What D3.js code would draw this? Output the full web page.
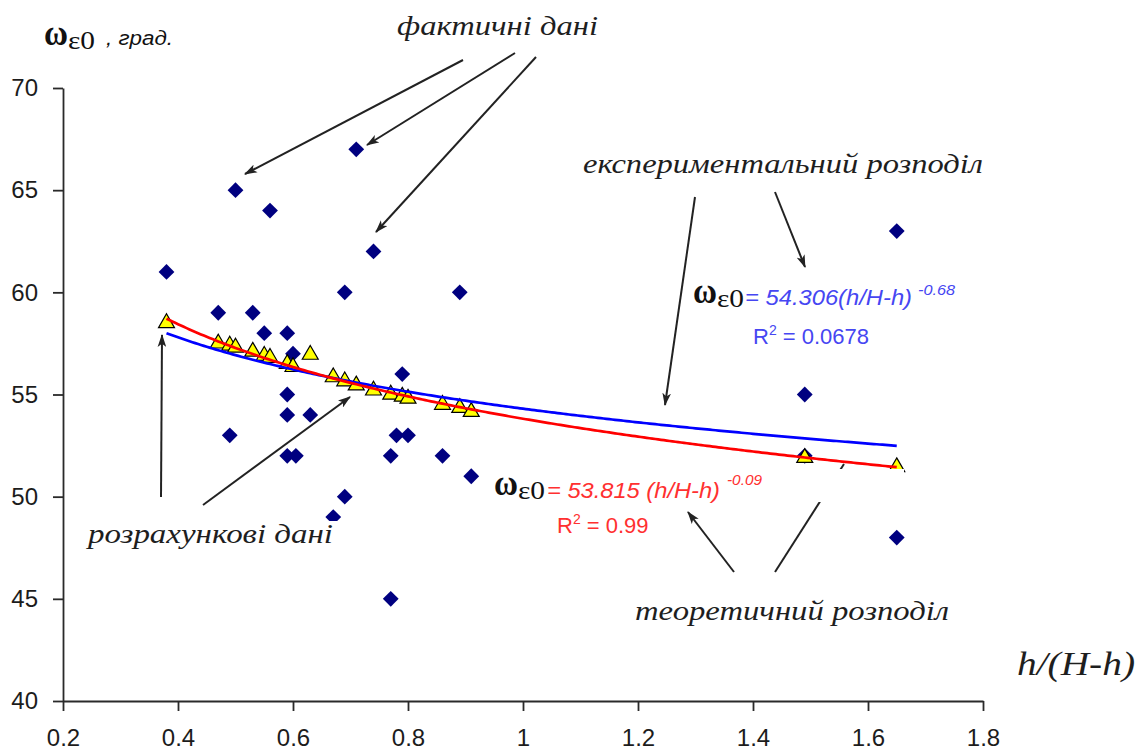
<!DOCTYPE html>
<html>
<head>
<meta charset="utf-8">
<script src="https://cdn.jsdelivr.net/npm/d3@7"></script>
<style>
  html, body { margin: 0; padding: 0; background: #fff; }
  svg { display: block; }
</style>
</head>
<body>
<svg id="chart" width="1142" height="754"></svg>
<script>
// Measured angles (фактичні дані)
const factX = [0.38, 0.50, 0.56, 0.47, 0.53, 0.55, 0.59, 0.60, 0.59, 0.59, 0.63, 0.49, 0.59, 0.605,
               0.67, 0.69, 0.71, 0.69, 0.74, 0.77, 0.77, 0.78, 0.80, 0.79, 0.86, 0.89, 0.91,
               1.49, 1.49, 1.65, 1.65];
const factY = [61, 65, 64, 59, 59, 58, 58, 57, 55, 54, 54, 53, 52, 52,
               49, 50, 67, 60, 62, 45, 52, 53, 53, 56, 52, 60, 51,
               55, 52, 63, 48];

// Calculated angles (розрахункові дані)
const calcX = [0.38, 0.47, 0.49, 0.50, 0.53, 0.55, 0.56, 0.59, 0.60, 0.63,
               0.67, 0.69, 0.71, 0.74, 0.77, 0.79, 0.80, 0.86, 0.89, 0.91,
               1.49, 1.65];
const calcY = [58.5, 57.5, 57.4, 57.3, 57.1, 56.9, 56.8, 56.5, 56.35, 56.95,
               55.85, 55.65, 55.45, 55.2, 55.0, 54.9, 54.8, 54.5, 54.35, 54.15,
               51.9, 51.45];

// Power trendlines y = a * x^b
const expFit = { a: 54.306, b: -0.068 };   // експериментальний розподіл
const theoFit = { a: 53.815, b: -0.09 };   // теоретичний розподіл
const fitRange = [0.38, 1.65];

const xTickValues = [0.2, 0.4, 0.6, 0.8, 1.0, 1.2, 1.4, 1.6, 1.8];
const yTickValues = [40, 45, 50, 55, 60, 65, 70];

const svg = d3.select("#chart");

const x = d3.scaleLinear().domain([0.2, 1.8]).range([63, 983]);
const y = d3.scaleLinear().domain([40, 70]).range([701, 88]);

// Axes
const fmt = d => String(+d.toFixed(1));
const xAxis = svg.append("g")
  .attr("transform", `translate(0,${y(40)})`)
  .call(d3.axisBottom(x).tickValues(xTickValues).tickFormat(fmt).tickSize(10).tickPadding(18).tickSizeOuter(0));
const yAxis = svg.append("g")
  .attr("transform", `translate(${x(0.2)},0)`)
  .call(d3.axisLeft(y).tickValues(yTickValues).tickSize(10).tickPadding(15).tickSizeOuter(0));

[xAxis, yAxis].forEach(g => {
  g.select(".domain").attr("stroke", "#2a2a2a").attr("stroke-width", 1.8);
  g.selectAll(".tick line").attr("stroke", "#2a2a2a").attr("stroke-width", 1.8);
  g.selectAll(".tick text")
    .attr("fill", "#1c1c1c")
    .style("font-family", "'Liberation Sans', Arial, sans-serif")
    .style("font-size", "24px");
});

// Measured points: navy diamonds
const facts = factX.map((v, i) => ({ x: v, y: factY[i] }));
svg.append("g").selectAll("path")
  .data(facts)
  .join("path")
  .attr("d", d3.symbol(d3.symbolSquare, 125))
  .attr("transform", d => `translate(${x(d.x)},${y(d.y)}) rotate(45)`)
  .attr("fill", "#000080");

// Calculated points: yellow triangles
const calcs = calcX.map((v, i) => ({ x: v, y: calcY[i] }));
svg.append("g").selectAll("path")
  .data(calcs)
  .join("path")
  .attr("d", d3.symbol(d3.symbolTriangle, 110))
  .attr("transform", d => `translate(${x(d.x)},${y(d.y)})`)
  .attr("fill", "#ffff00")
  .attr("stroke", "#000")
  .attr("stroke-width", 1.2);

// Trendlines
const xs = d3.range(fitRange[0], fitRange[1] + 1e-9, 0.005);
const fitLine = fit => d3.line()
  .x(v => x(v))
  .y(v => y(fit.a * Math.pow(v, fit.b)))(xs);

svg.append("path")
  .attr("d", fitLine(expFit))
  .attr("fill", "none")
  .attr("stroke", "#0000ff")
  .attr("stroke-width", 2.7);
svg.append("path")
  .attr("d", fitLine(theoFit))
  .attr("fill", "none")
  .attr("stroke", "#ff0000")
  .attr("stroke-width", 2.7);

// Arrow marker
const defs = svg.append("defs");
defs.append("marker")
  .attr("id", "head")
  .attr("markerUnits", "userSpaceOnUse")
  .attr("viewBox", "0 0 12 8")
  .attr("refX", 11).attr("refY", 4)
  .attr("markerWidth", 13).attr("markerHeight", 9)
  .attr("orient", "auto")
  .append("path")
  .attr("d", "M0,0 L12,4 L0,8 L3,4 Z")
  .attr("fill", "#222");

// Callout arrows [x1, y1, x2, y2, withHead]
const arrows = [
  [463, 60, 245, 174, true],
  [515, 53, 367, 145, true],
  [536, 57, 376, 232, true],
  [695, 197, 665, 405, true],
  [775, 192, 805, 267, true],
  [161, 497, 162, 335, true],
  [203, 505, 350, 397, true],
  [734, 572, 688, 512, true],
  [775, 572, 844, 464, false]
];
svg.append("g").selectAll("line")
  .data(arrows)
  .join("line")
  .attr("x1", d => d[0]).attr("y1", d => d[1])
  .attr("x2", d => d[2]).attr("y2", d => d[3])
  .attr("stroke", "#222")
  .attr("stroke-width", 2)
  .attr("marker-end", d => d[4] ? "url(#head)" : null);

// White label boxes
svg.append("rect").attr("x", 486).attr("y", 469).attr("width", 418).attr("height", 33).attr("fill", "#fff");
svg.append("rect").attr("x", 85).attr("y", 521).attr("width", 255).attr("height", 30).attr("fill", "#fff");

// Text helpers
const serifItalic = "'Liberation Serif', 'DejaVu Serif', serif";
const sans = "'Liberation Sans', Arial, sans-serif";
function label(txt, px, py, size, len, opts = {}) {
  const t = svg.append("text")
    .attr("x", px).attr("y", py)
    .style("font-family", opts.family || serifItalic)
    .style("font-size", size + "px")
    .style("font-style", opts.italic === false ? "normal" : "italic")
    .style("font-weight", opts.weight || "normal")
    .attr("fill", opts.fill || "#1e1e1e")
    .text(txt);
  if (len) t.attr("textLength", len).attr("lengthAdjust", "spacingAndGlyphs");
  return t;
}

// Annotations
label("фактичні дані", 397, 35, 28, 201);
label("експериментальний розподіл", 583, 173, 28, 400);
label("розрахункові дані", 88, 543, 28, 245);
label("теоретичний розподіл", 635, 620, 28, 314);
label("h/(H-h)", 1017, 675, 34, 118);

// Symbol ωε0
function omegaSymbol(px, py) {
  label("ω", px, py, 36, 24, { italic: false, weight: "bold", family: "'Liberation Serif', serif", fill: "#111" });
  label("ε0", px + 24, py + 4, 26, 27, { italic: false, family: "'Liberation Serif', serif", fill: "#111" });
}
omegaSymbol(44, 45);
label(", град.", 106, 45, 20, 67, { family: sans, fill: "#111" });

// Fit equations
const blueText = "#4646f2";
const redText = "#ff3030";

omegaSymbol(693, 303);
label("= 54.306(h/H-h)", 745, 305, 22, 167, { family: sans, fill: blueText });
label("-0.68", 918, 295, 14, 37, { family: sans, fill: blueText });
const r1 = svg.append("text").attr("x", 753).attr("y", 344)
  .style("font-family", sans).style("font-size", "22px").attr("fill", blueText);
r1.append("tspan").text("R");
r1.append("tspan").attr("dy", -9).style("font-size", "14px").text("2");
r1.append("tspan").attr("dy", 9).text(" = 0.0678");

omegaSymbol(494, 495);
label("= 53.815 (h/H-h)", 547, 498, 22, 173, { family: sans, fill: redText });
label("-0.09", 727, 485, 14, 35, { family: sans, fill: redText });
const r2 = svg.append("text").attr("x", 557).attr("y", 533)
  .style("font-family", sans).style("font-size", "22px").attr("fill", redText);
r2.append("tspan").text("R");
r2.append("tspan").attr("dy", -9).style("font-size", "14px").text("2");
r2.append("tspan").attr("dy", 9).text(" = 0.99");
</script>
</body>
</html>
